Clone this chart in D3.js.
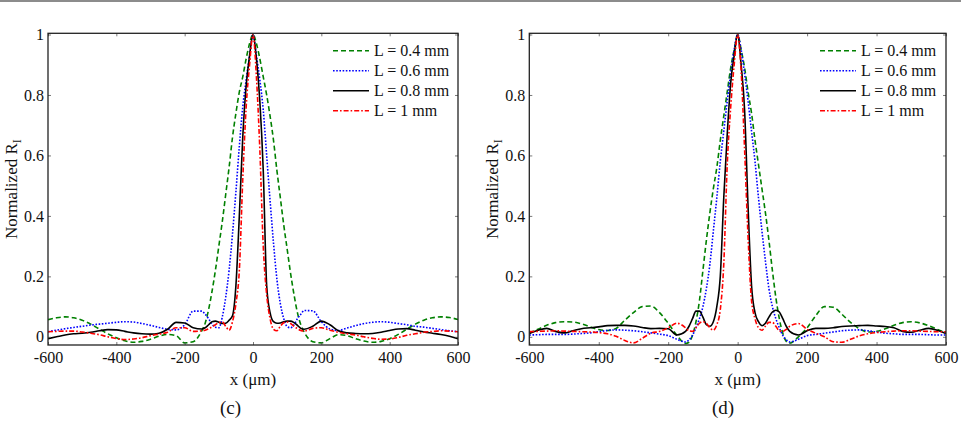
<!DOCTYPE html>
<html>
<head>
<meta charset="utf-8">
<script src="https://cdnjs.cloudflare.com/ajax/libs/d3/7.8.5/d3.min.js"></script>
<style>
body { margin: 0; background: #fff; }
svg { display: block; }
text { font-family: "Liberation Serif", "Times New Roman", serif; fill: #111; }
</style>
</head>
<body>
<svg width="961" height="422"></svg>
<script>
// sample positions in um, finer around the main lobe
var xPos = [-600,-575,-550,-525,-500,-475,-450,-425,-400,-375,-350,-325,-300,-275,-250,-225,-200,-175,
  -150,-140,-130,-120,-110,-100,-90,-80,-70,-60,-50,-40,-30,-20,-10,0,10,20,30,40,50,60,70,80,90,100,110,120,130,140,150,
  175,200,225,250,275,300,325,350,375,400,425,450,475,500,525,550,575,600];

var seriesNames = ["L = 0.4 mm", "L = 0.6 mm", "L = 0.8 mm", "L = 1 mm"];
var xTicks = [-600, -400, -200, 0, 200, 400, 600];
var yTicks = [0, 0.2, 0.4, 0.6, 0.8, 1];

// panel (c)
var c_L04 = [0.057,0.063,0.066,0.063,0.055,0.042,0.026,0.010,-0.003,-0.013,-0.018,-0.015,-0.008,0.002,0.008,0.004,-0.020,-0.016,
  0.020,0.045,0.090,0.150,0.220,0.300,0.380,0.470,0.560,0.660,0.740,0.810,0.860,0.920,0.970,1.000,0.970,0.920,0.860,0.800,0.730,0.650,0.550,0.460,0.370,0.290,0.210,0.140,0.080,0.040,0.015,
  -0.016,-0.020,-0.006,0.007,0.004,-0.006,-0.014,-0.018,-0.015,-0.006,0.008,0.025,0.042,0.055,0.063,0.066,0.064,0.057];
var c_L06 = [0.017,0.022,0.027,0.031,0.035,0.039,0.042,0.045,0.048,0.050,0.049,0.044,0.038,0.031,0.025,0.023,0.040,0.085,
  0.085,0.075,0.060,0.042,0.032,0.030,0.065,0.130,0.220,0.340,0.480,0.630,0.760,0.850,0.930,1.000,0.930,0.850,0.750,0.600,0.450,0.310,0.190,0.110,0.060,0.034,0.030,0.040,0.060,0.075,0.087,
  0.086,0.050,0.026,0.021,0.029,0.037,0.044,0.048,0.050,0.048,0.044,0.040,0.035,0.032,0.028,0.024,0.020,0.017];
var c_L08 = [-0.006,0.000,0.006,0.010,0.012,0.015,0.020,0.024,0.023,0.018,0.013,0.010,0.009,0.012,0.025,0.048,0.046,0.030,
  0.026,0.030,0.040,0.050,0.052,0.048,0.044,0.045,0.055,0.070,0.170,0.400,0.660,0.830,0.930,1.000,0.920,0.780,0.550,0.170,0.080,0.050,0.045,0.046,0.050,0.052,0.052,0.047,0.038,0.028,0.025,
  0.035,0.052,0.040,0.020,0.013,0.011,0.010,0.011,0.015,0.021,0.026,0.027,0.022,0.016,0.012,0.008,0.002,-0.006];
var c_L10 = [0.017,0.018,0.019,0.019,0.016,0.012,0.007,0.000,-0.006,-0.009,-0.007,-0.003,0.004,0.009,0.015,0.030,0.030,0.018,
  0.020,0.022,0.027,0.033,0.040,0.047,0.049,0.035,0.022,0.050,0.110,0.220,0.520,0.760,0.900,1.000,0.860,0.620,0.300,0.140,0.060,0.025,0.020,0.035,0.047,0.049,0.044,0.035,0.027,0.021,0.019,
  0.028,0.030,0.022,0.015,0.010,0.006,0.000,-0.005,-0.008,-0.007,-0.002,0.005,0.010,0.015,0.018,0.020,0.019,0.017];

// panel (d)
var d_L04 = [0.013,0.025,0.038,0.047,0.050,0.049,0.043,0.033,0.024,0.021,0.028,0.055,0.080,0.100,0.102,0.080,0.045,0.005,
  -0.022,-0.018,0.005,0.050,0.120,0.220,0.320,0.410,0.490,0.560,0.650,0.730,0.810,0.890,0.950,1.000,0.950,0.890,0.810,0.740,0.650,0.570,0.490,0.410,0.320,0.220,0.130,0.060,0.012,-0.015,-0.021,
  0.000,0.030,0.070,0.100,0.098,0.075,0.048,0.027,0.016,0.018,0.027,0.038,0.047,0.050,0.046,0.037,0.025,0.013];
var d_L06 = [0.006,0.007,0.008,0.008,0.008,0.009,0.011,0.013,0.017,0.021,0.023,0.022,0.020,0.017,0.013,0.009,0.004,-0.008,
  -0.017,-0.010,0.005,0.030,0.060,0.100,0.160,0.240,0.350,0.460,0.580,0.680,0.780,0.870,0.950,1.000,0.950,0.870,0.780,0.680,0.580,0.460,0.350,0.250,0.160,0.100,0.060,0.030,0.005,-0.010,-0.017,
  -0.008,0.004,0.008,0.012,0.016,0.020,0.022,0.023,0.020,0.016,0.012,0.010,0.008,0.008,0.008,0.007,0.006,0.006];
var d_L08 = [0.011,0.022,0.028,0.018,0.013,0.020,0.027,0.030,0.033,0.037,0.038,0.038,0.036,0.031,0.027,0.028,0.027,0.006,
  0.018,0.035,0.060,0.085,0.085,0.065,0.040,0.035,0.050,0.100,0.200,0.460,0.670,0.840,0.930,1.000,0.900,0.750,0.430,0.170,0.080,0.050,0.037,0.045,0.065,0.082,0.088,0.082,0.060,0.035,0.018,
  0.006,0.020,0.028,0.028,0.030,0.034,0.036,0.037,0.038,0.036,0.034,0.030,0.018,0.015,0.022,0.028,0.022,0.011];
var d_L10 = [0.017,0.018,0.019,0.020,0.019,0.018,0.017,0.016,0.014,0.010,0.002,-0.012,-0.020,-0.005,0.012,0.018,0.030,0.045,
  0.030,0.020,0.018,0.030,0.045,0.050,0.045,0.030,0.022,0.040,0.090,0.240,0.570,0.760,0.900,1.000,0.880,0.620,0.330,0.120,0.060,0.030,0.022,0.035,0.048,0.048,0.035,0.020,0.018,0.025,0.035,
  0.044,0.025,0.012,0.000,-0.016,-0.018,-0.008,0.003,0.010,0.014,0.017,0.019,0.020,0.020,0.019,0.018,0.017,0.017];

// line styles, matlab-ish
var styles = [
  { color: "#008000", dash: "5,3" },
  { color: "#0000ff", dash: "1.6,1.6" },
  { color: "#000000", dash: null },
  { color: "#ff0000", dash: "5,2,1.6,2" }
];

var svg = d3.select("svg");

// grey rule along the top edge
svg.append("rect")
    .attr("x", 0).attr("y", 0)
    .attr("width", 961).attr("height", 2)
    .attr("fill", "#8c8c8c");

function drawPanel(id, left, right, legendX, series, tag, tagX) {
    var top = 33.3, bottom = 345;

    var x = d3.scaleLinear().domain([-600, 600]).range([left, right]);
    var y = d3.scaleLinear().domain([-0.027, 1.004]).range([bottom, top]);

    var g = svg.append("g");

    g.append("clipPath").attr("id", "clip-" + id)
      .append("rect")
        .attr("x", left).attr("y", top)
        .attr("width", right - left).attr("height", bottom - top);

    var line = d3.line()
        .x(function(d, i) { return x(xPos[i]); })
        .y(function(d) { return y(d); })
        .curve(d3.curveMonotoneX);

    series.forEach(function(vals, k) {
        g.append("path")
            .datum(vals)
            .attr("clip-path", "url(#clip-" + id + ")")
            .attr("fill", "none")
            .attr("stroke", styles[k].color)
            .attr("stroke-width", 1.6)
            .attr("stroke-dasharray", styles[k].dash)
            .attr("d", line);
    });

    // axes: ticks point inward, labels only bottom and left
    var bottomAxis = g.append("g")
        .attr("transform", "translate(0," + bottom + ")")
        .call(d3.axisBottom(x).tickValues(xTicks).tickSizeInner(-3).tickSizeOuter(0)
            .tickPadding(7).tickFormat(function(d) { return String(d); }));
    var leftAxis = g.append("g")
        .attr("transform", "translate(" + left + ",0)")
        .call(d3.axisLeft(y).tickValues(yTicks).tickSizeInner(-3).tickSizeOuter(0)
            .tickPadding(4).tickFormat(function(d) { return String(d); }));
    g.append("g")
        .attr("transform", "translate(0," + top + ")")
        .call(d3.axisTop(x).tickValues(xTicks).tickSizeInner(-3).tickSizeOuter(0).tickFormat(""));
    g.append("g")
        .attr("transform", "translate(" + right + ",0)")
        .call(d3.axisRight(y).tickValues(yTicks).tickSizeInner(-3).tickSizeOuter(0).tickFormat(""));

    g.selectAll(".domain").remove();
    g.selectAll(".tick line").attr("stroke", "#555").attr("stroke-width", 0.8);
    [bottomAxis, leftAxis].forEach(function(a) {
        a.attr("font-family", null).attr("font-size", null);
        a.selectAll("text").attr("font-size", 16).attr("fill", "#111");
    });

    // frame
    g.append("rect")
        .attr("x", left).attr("y", top)
        .attr("width", right - left).attr("height", bottom - top)
        .attr("fill", "none")
        .attr("stroke", "#222")
        .attr("stroke-width", 1.3);

    // axis titles
    g.append("text")
        .attr("x", (left + right) / 2)
        .attr("y", 384.5)
        .attr("text-anchor", "middle")
        .attr("font-size", 17)
        .text("x (\u03bcm)");

    var yl = g.append("text")
        .attr("transform", "translate(" + (left - 31) + "," + ((top + bottom) / 2) + ") rotate(-90)")
        .attr("text-anchor", "middle")
        .attr("font-size", 17);
    yl.append("tspan").text("Normalized R");
    yl.append("tspan").attr("dy", 4).attr("font-size", 12).text("I");

    g.append("text")
        .attr("x", tagX)
        .attr("y", 414)
        .attr("text-anchor", "middle")
        .attr("font-size", 19)
        .text(tag);

    // legend
    seriesNames.forEach(function(name, k) {
        var ry = 50.7 + k * 20;
        g.append("line")
            .attr("x1", legendX).attr("x2", legendX + 36)
            .attr("y1", ry).attr("y2", ry)
            .attr("stroke", styles[k].color)
            .attr("stroke-width", 1.6)
            .attr("stroke-dasharray", styles[k].dash);
        g.append("text")
            .attr("x", legendX + 41)
            .attr("y", ry + 5)
            .attr("font-size", 16)
            .text(name);
    });
}

drawPanel("c", 48, 458, 333, [c_L04, c_L06, c_L08, c_L10], "(c)", 230.5);
drawPanel("d", 529.3, 946, 820, [d_L04, d_L06, d_L08, d_L10], "(d)", 723);
</script>
</body>
</html>
